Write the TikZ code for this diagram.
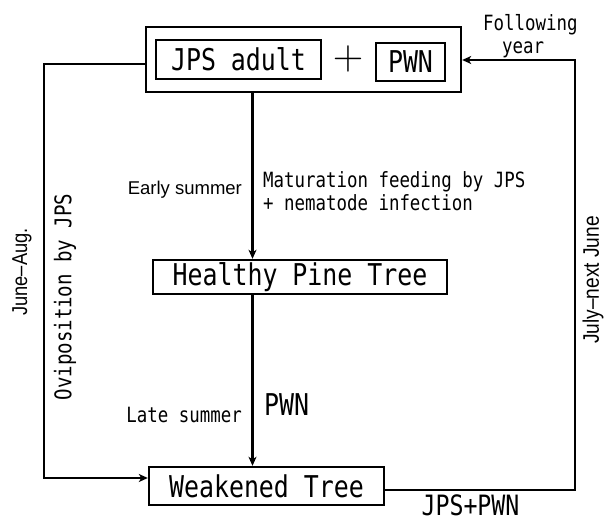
\documentclass[tikz,border=0pt]{standalone}
\usepackage[no-math]{fontspec}
\setmainfont{Liberation Sans}
\newfontfamily\goth[FakeStretch=0.83]{DejaVu Sans Mono}
\newfontfamily\narrow[FakeStretch=0.85]{Liberation Sans}
\usetikzlibrary{arrows.meta}

\begin{document}
\begin{tikzpicture}[x=1pt, y=-1pt, line width=2.2pt,
	box/.style={shape=rectangle, draw=black, line width=2.4pt, inner sep=0pt},
	big/.style={font=\goth\fontsize{30}{30}\selectfont},
	small/.style={font=\goth\fontsize{21}{23}\selectfont, inner sep=0pt},
	sans/.style={font=\fontsize{18.5}{20}\selectfont, inner sep=0pt},
	side/.style={font=\narrow\fontsize{21.5}{22}\selectfont, inner sep=0pt, rotate=90},
	>={Stealth[length=9pt, width=8pt, inset=2.5pt]}]
	\useasboundingbox (0,0) rectangle (606,522);

	% boxes
	\node[box, minimum width=315pt, minimum height=65pt]       (0) at (303.5,59.5) {};
	\node[box, big, minimum width=165pt, minimum height=39pt] (1) at (238.5,59.5) {JPS adult};
	\node[font=\Huge, scale=1.7, inner sep=0pt]                (2) at (348,59)     {$+$};
	\node[box, big, minimum width=69pt, minimum height=38pt]  (3) at (410.5,62)   {PWN};
	\node[box, big, minimum width=294pt, minimum height=34pt] (4) at (300,277)    {Healthy Pine Tree};
	\node[box, big, minimum width=235pt, minimum height=38pt] (5) at (266.5,486)  {Weakened Tree};

	% labels
	\node[sans, anchor=east]                      (6)  at (243,190)   {Early summer};
	\node[small, anchor=west, align=left]         (7)  at (262,191)   {Maturation feeding by JPS\\+ nematode infection};
	\node[small, anchor=east]                     (8)  at (243,415)   {Late summer};
	\node[big, anchor=west, inner sep=0pt]        (9)  at (263,405)   {PWN};
	\node[big, font=\goth\fontsize{28}{28}\selectfont, inner sep=0pt] (10) at (470.5,505) {JPS+PWN};
	\node[small, anchor=west, align=left]         (11) at (482,36)    {Following\\\hspace*{19pt}year};
	\node[side]                                   (12) at (22,272)    {June–Aug.};
	\node[small, font=\goth\fontsize{23}{23}\selectfont, rotate=90] (13) at (65,297) {Oviposition by JPS};
	\node[side, font=\narrow\fontsize{22.5}{23}\selectfont] (14) at (593,280) {July–next June};

	% connectors
	\coordinate (c) at (252.5,0);
	\coordinate (l) at (44,478);
	\coordinate (r) at (575,60);

	\path [->] (0.south -| c) edge (4.north -| c);
	\path [->] (4.south -| c) edge (5.north -| c);
	\draw [->] ([yshift=-4.5pt]0.west) -| (l) -- (5.west |- l);
	\draw [->] ([yshift=-4pt]5.east) -| (r) -- (0.east |- r);
\end{tikzpicture}
\end{document}
